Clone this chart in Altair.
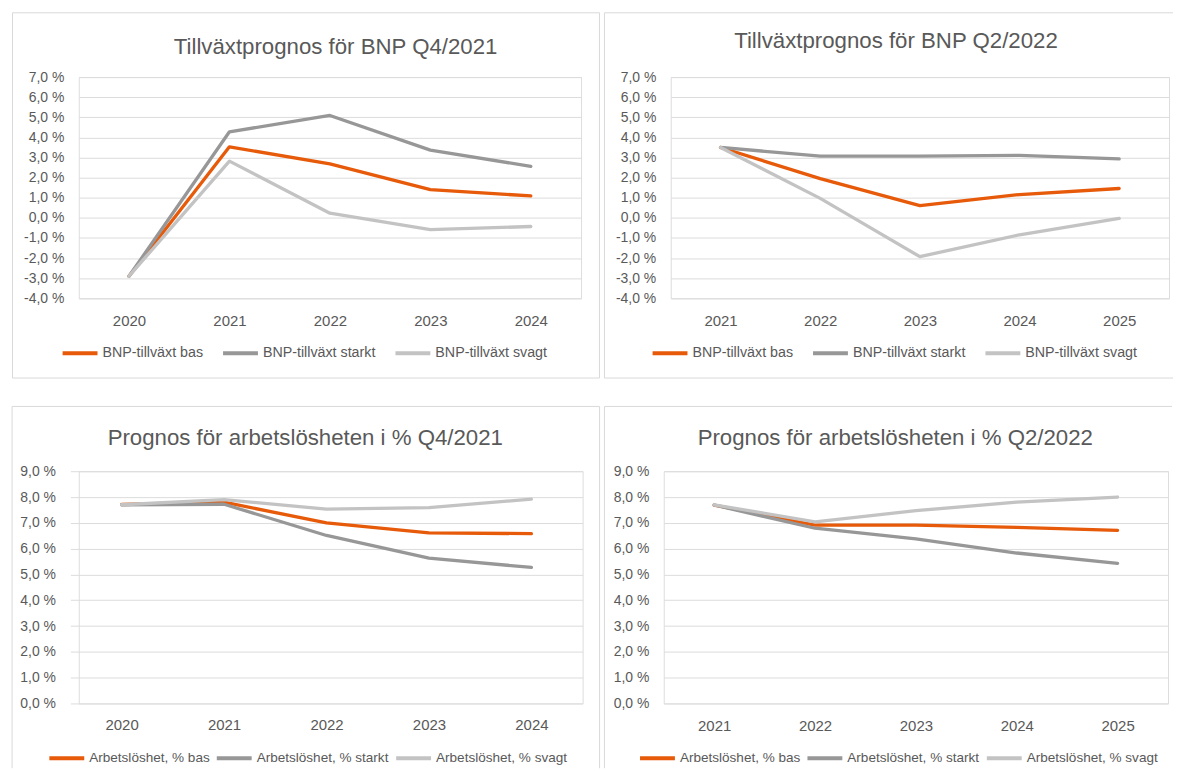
import altair as alt
import pandas as pd

# ---------------- data ----------------
years_q4 = ["2020", "2021", "2022", "2023", "2024"]
years_q2 = ["2021", "2022", "2023", "2024", "2025"]

bnp_names = ["BNP-tillväxt bas", "BNP-tillväxt starkt", "BNP-tillväxt svagt"]
arb_names = ["Arbetslöshet, % bas", "Arbetslöshet, % starkt", "Arbetslöshet, % svagt"]

titles = [
    "Tillväxtprognos för BNP Q4/2021",
    "Tillväxtprognos för BNP Q2/2022",
    "Prognos för arbetslösheten i % Q4/2021",
    "Prognos för arbetslösheten i %  Q2/2022",
]

bnp_q4_bas = [-2.9, 3.53, 2.68, 1.40, 1.09]
bnp_q4_starkt = [-2.9, 4.28, 5.09, 3.37, 2.56]
bnp_q4_svagt = [-2.9, 2.82, 0.23, -0.59, -0.43]

bnp_q2_bas = [3.5, 1.95, 0.61, 1.16, 1.46]
bnp_q2_starkt = [3.5, 3.07, 3.07, 3.11, 2.93]
bnp_q2_svagt = [3.5, 0.97, -1.93, -0.84, -0.03]

arb_q4_bas = [7.71, 7.80, 7.00, 6.61, 6.58]
arb_q4_starkt = [7.70, 7.72, 6.51, 5.63, 5.27]
arb_q4_svagt = [7.70, 7.90, 7.53, 7.59, 7.92]

arb_q2_bas = [7.69, 6.91, 6.91, 6.82, 6.71]
arb_q2_starkt = [7.69, 6.79, 6.38, 5.83, 5.43]
arb_q2_svagt = [7.70, 7.04, 7.47, 7.80, 8.00]

bnp_ticks = [-4, -3, -2, -1, 0, 1, 2, 3, 4, 5, 6, 7]
arb_ticks = [0, 1, 2, 3, 4, 5, 6, 7, 8, 9]

colors = ["#E65A0A", "#979797", "#C3C3C3"]

FONT = "Liberation Sans"
TXT = "#595959"
GRID = "#DCDCDC"
FRAME = "#D9D9D9"


def long_df(years, names, series):
    rows = []
    for name, vals in zip(names, series):
        for y, v in zip(years, vals):
            rows.append({"year": y, "serie": name, "value": v})
    return pd.DataFrame(rows)


def panel(title, years, names, series, ticks, g):
    df = long_df(years, names, series)
    W, H = g["W"], g["H"]
    fl, ft, fr, fb = g["frame"]
    label_expr = "replace(replace(format(datum.value, '.1f'), '.', ','), '\u2212', '-') + ' %'"

    lines = alt.Chart(df).mark_line(
        strokeWidth=3.3, strokeCap="round", strokeJoin="round"
    ).encode(
        x=alt.X("year:O", sort=years,
                scale=alt.Scale(type="point", padding=0.5, range=[g["gx0"], W]),
                axis=alt.Axis(title=None, labelAngle=0, ticks=False, tickSize=0,
                              domain=False, grid=False, labelPadding=g["xpad"],
                              labelFont=FONT, labelFontSize=15, labelColor=TXT)),
        y=alt.Y("value:Q",
                scale=alt.Scale(domain=[ticks[0], ticks[-1]], nice=False, zero=False),
                axis=alt.Axis(title=None, values=ticks, labelExpr=label_expr,
                              ticks=False, tickSize=0, domain=False, grid=True,
                              gridColor=GRID, gridWidth=1, labelPadding=g["ypad"],
                              labelFont=FONT, labelFontSize=14, labelColor=TXT)),
        color=alt.Color("serie:N", sort=names,
                        scale=alt.Scale(domain=names, range=colors),
                        legend=alt.Legend(title=None, orient="none", direction="horizontal",
                                          legendX=g["lx"], legendY=g["ly"],
                                          symbolType="stroke", symbolSize=1225,
                                          symbolStrokeWidth=4, labelOffset=3,
                                          clipHeight=16,
                                          columnPadding=g["cpad"], labelLimit=0,
                                          labelFont=FONT, labelFontSize=g["lfs"],
                                          labelColor=TXT)),
        order=alt.Order("serie:N"),
    )

    one = pd.DataFrame({"k": [0]})
    layers = []
    base = alt.Chart(one).mark_rule(color=FRAME, strokeWidth=1)
    layers.append(base.encode(x=alt.value(fl), x2=alt.value(fr), y=alt.value(ft)))
    layers.append(base.encode(x=alt.value(fl), y=alt.value(ft), y2=alt.value(fb)))
    if g.get("right", False):
        layers.append(base.encode(x=alt.value(fr), y=alt.value(ft), y2=alt.value(fb)))
    if g.get("bottom", False):
        layers.append(base.encode(x=alt.value(fl), x2=alt.value(fr), y=alt.value(fb)))

    title_mark = alt.Chart(one).mark_text(
        text=title, align="center", baseline="alphabetic",
        font=FONT, fontSize=22.3, color=TXT
    ).encode(x=alt.value(g["tx"]), y=alt.value(g["ty"]))
    layers.append(title_mark)

    ch = alt.layer(*layers, lines).properties(width=W, height=H)
    return ch


g_tl = dict(W=504, H=222, gx0=0, frame=(-66.5, -64.5, 522.5, 302.0), right=True, bottom=True,
            tx=257.7, ty=-23.2, lx=-18.2, ly=269.2, cpad=18, lfs=14.3, xpad=15.5, ypad=15)
g_tr = dict(W=500, H=222, gx0=0, frame=(-66.5, -64.5, 504, 302.0), right=False, bottom=True,
            tx=226, ty=-28.8, lx=-20.2, ly=269.2, cpad=18, lfs=14.3, xpad=15.5, ypad=15)
g_bl = dict(W=505.6, H=233, gx0=-8.4, frame=(-66.9, -65.0, 522.6, 298), right=True, bottom=False,
            tx=227.3, ty=-26.7, lx=-31.5, ly=280, cpad=5, lfs=13.6, xpad=14.2, ypad=23.4)
g_br = dict(W=506, H=233, gx0=0, frame=(-59.5, -65.0, 510, 298), right=False, bottom=False,
            tx=232.3, ty=-26.7, lx=-25.8, ly=280, cpad=5, lfs=13.6, xpad=15.5, ypad=15)

tl = panel(titles[0], years_q4, bnp_names,
           [bnp_q4_bas, bnp_q4_starkt, bnp_q4_svagt], bnp_ticks, g_tl)
tr = panel(titles[1], years_q2, bnp_names,
           [bnp_q2_bas, bnp_q2_starkt, bnp_q2_svagt], bnp_ticks, g_tr)
bl = panel(titles[2], years_q4, arb_names,
           [arb_q4_bas, arb_q4_starkt, arb_q4_svagt], arb_ticks, g_bl)
br = panel(titles[3], years_q2, arb_names,
           [arb_q2_bas, arb_q2_starkt, arb_q2_svagt], arb_ticks, g_br)

row1 = alt.hconcat(tl, tr, spacing=2).resolve_scale(
    x="independent", y="independent", color="independent").resolve_legend(color="independent")
row2 = alt.hconcat(bl, br, spacing=2).resolve_scale(
    x="independent", y="independent", color="independent").resolve_legend(color="independent")

chart = alt.vconcat(row1, row2, spacing=26.5).resolve_scale(
    x="independent", y="independent", color="independent").resolve_legend(
    color="independent").properties(
    padding={"left": 3, "top": 2, "right": 0, "bottom": -1}
).configure_view(stroke=None).configure(background="white")

chart.save("out.html", embed_options={"renderer": "svg", "actions": False})
